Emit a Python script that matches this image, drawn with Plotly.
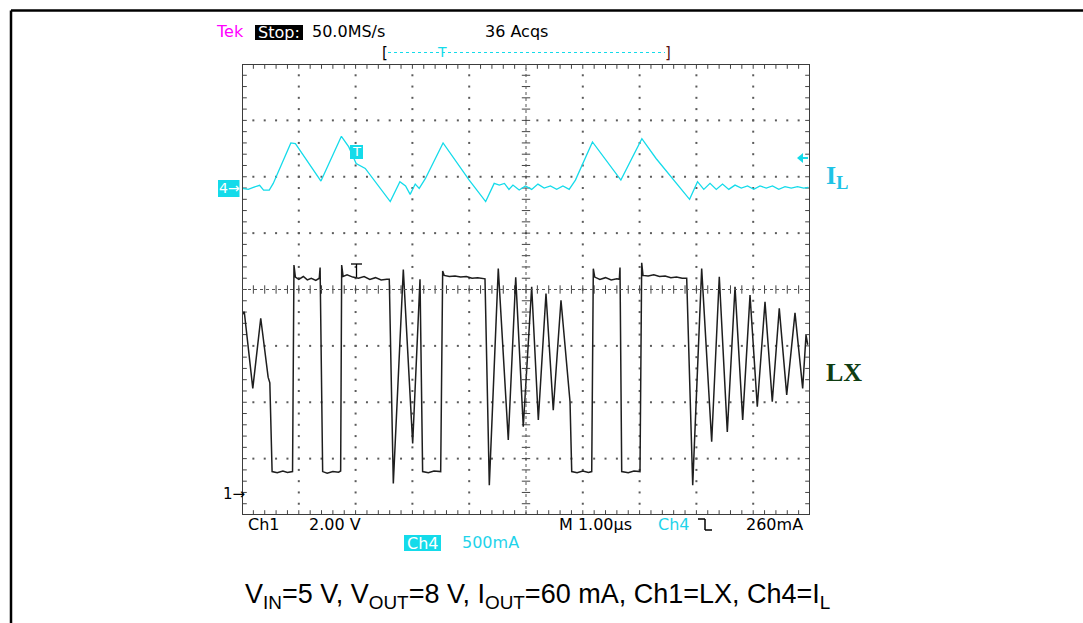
import plotly.graph_objects as go
import numpy as np

# ---------------- data ----------------
# Ch1 = LX node voltage (V) vs time (us from left edge of screen)
lx_time_us = [0.00, 0.04, 0.19, 0.33, 0.46, 0.49, 0.53, 0.62, 0.72, 0.80, 0.89,
              0.915, 0.94, 1.00, 1.08, 1.15, 1.22, 1.30, 1.36, 1.375, 1.42, 1.50,
              1.60, 1.70, 1.737, 1.755, 1.78, 1.85, 1.95, 2.05, 2.15, 2.25, 2.35,
              2.45, 2.55, 2.593, 2.664, 2.84, 3.005, 3.134, 3.18, 3.28, 3.38, 3.498,
              3.533, 3.56, 3.65, 3.75, 3.85, 3.95, 4.05, 4.15, 4.278, 4.354, 4.512,
              4.688, 4.819, 4.952, 5.10, 5.217, 5.352, 5.48, 5.616, 5.762, 5.775,
              5.805, 5.90, 6.00, 6.10, 6.157, 6.185, 6.21, 6.30, 6.40, 6.50, 6.60,
              6.643, 6.655, 6.685, 6.80, 6.90, 7.007, 7.037, 7.06, 7.15, 7.25, 7.35,
              7.45, 7.55, 7.65, 7.75, 7.829, 7.935, 8.093, 8.269, 8.403, 8.544, 8.68,
              8.815, 8.944, 9.072, 9.208, 9.336, 9.459, 9.59, 9.736, 9.871, 9.93, 9.96]
lx_volts = [6.35, 6.47, 3.75, 6.24, 4.15, 3.95, 0.80, 0.76, 0.82, 0.77, 0.80,
            8.13, 7.70, 7.62, 7.72, 7.60, 7.66, 7.58, 7.66, 8.04, 0.80, 0.74,
            0.80, 0.78, 0.82, 8.13, 7.72, 7.78, 7.70, 7.66, 7.72, 7.62, 7.68,
            7.60, 7.62, 7.62, 0.38, 7.97, 1.80, 7.62, 0.80, 0.76, 0.82, 0.80,
            7.92, 7.76, 7.72, 7.74, 7.70, 7.72, 7.66, 7.68, 7.64, 0.32, 8.00,
            1.92, 7.69, 2.39, 7.36, 2.63, 7.12, 2.98, 6.88, 3.58, 3.28,
            0.80, 0.76, 0.82, 0.77, 0.80, 8.00, 7.70, 7.62, 7.68, 7.60, 7.64,
            7.62, 8.04, 0.80, 0.76, 0.82, 0.80, 8.21, 7.76, 7.74, 7.78, 7.72,
            7.74, 7.68, 7.70, 7.66, 7.66, 0.32, 8.00, 1.86, 7.71, 2.21, 7.36,
            2.63, 7.06, 3.10, 6.82, 3.28, 6.59, 3.52, 6.43, 3.75, 5.64, 5.30]

# Ch4 = inductor current (A) vs time (us)
il_time_us = [0.0, 0.11, 0.2, 0.31, 0.38, 0.48, 0.55, 0.86, 0.94, 1.39, 1.75, 1.88,
              2.01, 2.17, 2.61, 2.78, 2.88, 2.96, 3.05, 3.12, 3.23, 3.54, 4.0, 4.29,
              4.44, 4.53, 4.62, 4.70, 4.77, 4.88, 4.99, 5.10, 5.21, 5.32, 5.43, 5.54,
              5.65, 5.76, 5.87, 6.17, 6.67, 7.04, 7.29, 7.88, 8.02, 8.13, 8.24, 8.35,
              8.46, 8.57, 8.68, 8.79, 8.90, 9.01, 9.12, 9.23, 9.34, 9.45, 9.56, 9.67,
              9.78, 9.89, 9.97]
il_amps = [-0.003, -0.012, 0.006, 0.024, -0.018, -0.018, 0.041, 0.40, 0.394, 0.062,
           0.459, 0.365, 0.218, 0.174, -0.12, 0.056, 0.018, -0.056, 0.035, -0.003,
           0.085, 0.40, 0.07, -0.12, 0.041, 0.026, 0.041, -0.012, 0.026, -0.018,
           0.018, -0.012, 0.035, 0.0, 0.018, -0.012, 0.018, -0.012, 0.07, 0.409,
           0.07, 0.438, 0.262, -0.10, 0.056, -0.012, 0.041, -0.012, 0.035, -0.012,
           0.026, 0.0, 0.018, -0.012, 0.018, 0.0, 0.018, -0.012, 0.012, 0.0, 0.012,
           0.0, 0.006]

# scope settings
us_per_div = 1.0
ch1_volts_per_div = 2.0
ch1_ground_div = 0.37
ch4_amps_per_div = 0.5
ch4_ground_div = 5.8
n_hdiv, n_vdiv = 10, 8

# ---------------- layout geometry (pixels) ----------------
W, H = 1083, 623
L, R, T, B = 242, 810, 64, 515

def P(x, y):
    """pixel -> paper coordinates"""
    return (x - L) / (R - L), (B - y) / (B - T)

SCOPE_FONT = "DejaVu Sans, Arial, sans-serif"
CYAN = "#14dbea"
CYAN_TXT = "#1fd3ea"

fig = go.Figure()

# ---------------- graticule ----------------
sub = np.arange(0, n_hdiv * 5 + 1) / 5.0
subv = np.arange(0, n_vdiv * 5 + 1) / 5.0
gx, gy = [], []
for i in range(1, n_hdiv):
    if i == 5:
        continue
    gx += [i] * len(subv)
    gy += list(subv)
for j in range(1, n_vdiv):
    if j == 4:
        continue
    gx += list(sub)
    gy += [j] * len(sub)
fig.add_trace(go.Scatter(x=gx, y=gy, mode="markers", hoverinfo="skip",
                         marker=dict(symbol="square", size=2, color="#5a5a5a", line_width=0),
                         showlegend=False))
# center-line ticks
fig.add_trace(go.Scatter(x=[5] * len(subv), y=list(subv), mode="markers", hoverinfo="skip",
                         marker=dict(symbol="line-ew", size=6, line=dict(width=1, color="#444")),
                         showlegend=False))
fig.add_trace(go.Scatter(x=list(sub), y=[4] * len(sub), mode="markers", hoverinfo="skip",
                         marker=dict(symbol="line-ns", size=6, line=dict(width=1, color="#444")),
                         showlegend=False))
# border ticks (inward)
dx = 2.0 / ((R - L) / n_hdiv)
dy = 2.0 / ((B - T) / n_vdiv)
bx = list(sub) + list(sub)
by = [n_vdiv - dy] * len(sub) + [dy] * len(sub)
fig.add_trace(go.Scatter(x=bx, y=by, mode="markers", hoverinfo="skip",
                         marker=dict(symbol="line-ns", size=4, line=dict(width=1, color="#444")),
                         showlegend=False))
fig.add_trace(go.Scatter(x=[dx] * len(subv) + [n_hdiv - dx] * len(subv), y=list(subv) * 2,
                         mode="markers", hoverinfo="skip",
                         marker=dict(symbol="line-ew", size=4, line=dict(width=1, color="#444")),
                         showlegend=False))

# ---------------- waveforms ----------------
fig.add_trace(go.Scatter(x=lx_time_us, y=lx_volts, yaxis="y2", mode="lines",
                         line=dict(color="#1e1e1e", width=1.5), showlegend=False))
fig.add_trace(go.Scatter(x=il_time_us, y=il_amps, yaxis="y3", mode="lines",
                         line=dict(color=CYAN, width=1.3), showlegend=False))

shapes = []
# screen border
shapes.append(dict(type="rect", xref="x", yref="y", x0=0, x1=n_hdiv, y0=0, y1=n_vdiv,
                   line=dict(color="#3c3c3c", width=2), layer="above"))
# center dotted lines
shapes.append(dict(type="line", xref="x", yref="y", x0=5, x1=5, y0=0, y1=n_vdiv,
                   line=dict(color="#555", width=1, dash="dot")))
shapes.append(dict(type="line", xref="x", yref="y", x0=0, x1=n_hdiv, y0=4, y1=4,
                   line=dict(color="#555", width=1, dash="dot")))

def pline(x0, y0, x1, y1, color="black", width=1.5, dash=None):
    a, b = P(x0, y0)
    c, d = P(x1, y1)
    ln = dict(color=color, width=width)
    if dash:
        ln["dash"] = dash
    shapes.append(dict(type="line", xref="paper", yref="paper", x0=a, y0=b, x1=c, y1=d, line=ln))

def prect(x0, y0, x1, y1, fill):
    a, b = P(x0, y0)
    c, d = P(x1, y1)
    shapes.append(dict(type="rect", xref="paper", yref="paper", x0=a, y0=b, x1=c, y1=d,
                       fillcolor=fill, line=dict(width=0)))

# document frame (top and left rules only)
pline(11, 10.5, W + 20, 10.5, width=2.5)
pline(11, 10.5, 11, H + 20, width=2.5)
# trigger bracket line
pline(388, 52.5, 665, 52.5, color=CYAN, width=1, dash="dot")
# LX trigger "T" marker
pline(351, 264, 362, 264, width=1.3)
pline(356.5, 264, 356.5, 277, width=1.3)
# falling edge symbol
pline(698, 519, 705, 519, width=1.5)
pline(705, 519, 705, 530, width=1.5)
pline(705, 530, 712, 530, width=1.5)
# right cyan level arrow
a1 = P(797, 158); a2 = P(803, 153); a3 = P(803, 163)
shapes.append(dict(type="path", xref="paper", yref="paper",
                   path=f"M {a1[0]},{a1[1]} L {a2[0]},{a2[1]} L {a3[0]},{a3[1]} Z",
                   fillcolor=CYAN, line=dict(width=0)))
pline(802, 158, 808, 158, color=CYAN, width=2)
# boxes
prect(255, 25, 303, 40, "black")
prect(404, 535, 441, 551, CYAN)
prect(218, 180, 239.5, 197, CYAN)
prect(350, 145, 363, 159, CYAN)

annotations = []

def txt(x, y, s, size=16, color="black", anchor="left", family=SCOPE_FONT):
    xp, yp = P(x, y)
    annotations.append(dict(x=xp, y=yp, xref="paper", yref="paper", text=s, showarrow=False,
                            xanchor=anchor, yanchor="middle",
                            font=dict(family=family, size=size, color=color)))

txt(214, 32, "Tek", color="#ff00ff")
txt(279, 32.5, "Stop:", color="white", anchor="center")
txt(310, 32, "50.0MS/s")
txt(483, 32, "36 Acqs")
txt(385, 53, "[", size=15, anchor="center")
txt(668, 53, "]", size=15, color="#5a1010", anchor="center")
txt(441.5, 52, "T", size=14, color=CYAN, anchor="center")
txt(356.5, 152, "T", size=13, color="white", anchor="center")
txt(229, 188.5, "4→", size=14, color="white", anchor="center")
txt(221, 493.5, "1→", size=15)
txt(246, 524, "Ch1")
txt(307, 524, "2.00 V")
txt(557, 524, "M 1.00µs")
txt(656, 524, "Ch4", color=CYAN_TXT)
txt(744, 524, "260mA")
txt(422.5, 543, "Ch4", color="white", anchor="center")
txt(460, 542.5, "500mA", color=CYAN_TXT)
txt(824, 177, "<b>I<sub>L</sub></b>", size=26, color="#1ec3e6",
    family="Liberation Serif, Times New Roman, serif")
txt(824, 373, "<b>LX</b>", size=26, color="#0f3d12",
    family="Liberation Serif, Times New Roman, serif")
txt(537, 596, "V<sub>IN</sub>=5 V, V<sub>OUT</sub>=8 V, I<sub>OUT</sub>=60 mA, Ch1=LX, Ch4=I<sub>L</sub>",
    size=27, anchor="center", family="Liberation Sans, Arial, Helvetica, sans-serif")

ax_common = dict(visible=False, showgrid=False, zeroline=False, fixedrange=True)
fig.update_layout(
    width=W, height=H, autosize=False,
    margin=dict(l=L, r=W - R, t=T, b=H - B, pad=0),
    paper_bgcolor="white", plot_bgcolor="white",
    xaxis=dict(range=[0, n_hdiv * us_per_div], **ax_common),
    yaxis=dict(range=[0, n_vdiv], **ax_common),
    yaxis2=dict(range=[-ch1_ground_div * ch1_volts_per_div,
                       (n_vdiv - ch1_ground_div) * ch1_volts_per_div],
                overlaying="y", **ax_common),
    yaxis3=dict(range=[-ch4_ground_div * ch4_amps_per_div,
                       (n_vdiv - ch4_ground_div) * ch4_amps_per_div],
                overlaying="y", **ax_common),
    shapes=shapes, annotations=annotations, showlegend=False,
)

fig.write_html("out.html")
